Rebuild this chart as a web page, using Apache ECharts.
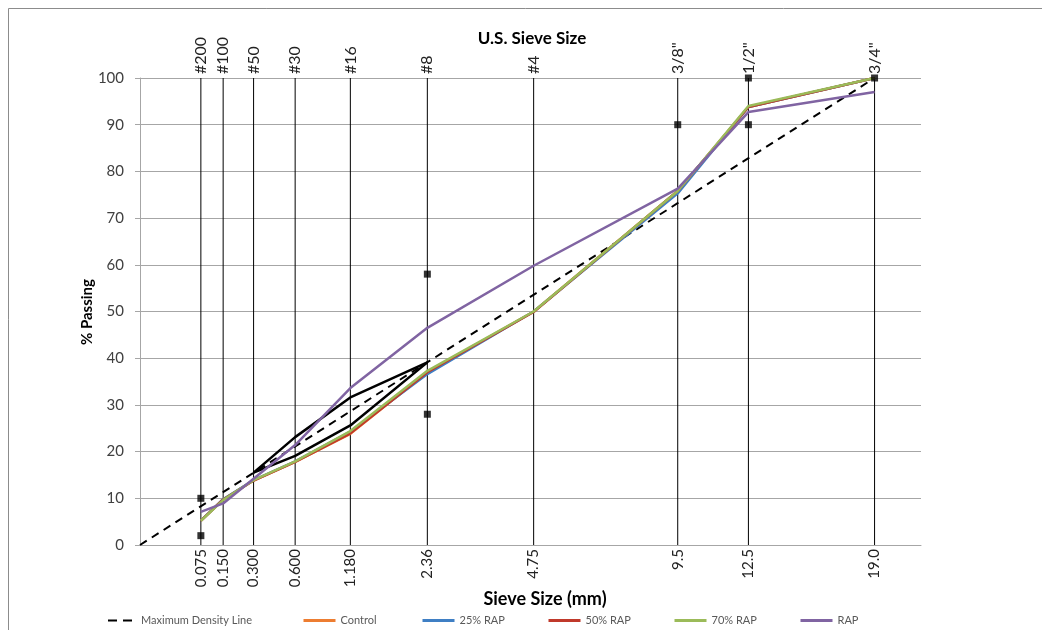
<!DOCTYPE html>
<html><head><meta charset="utf-8">
<script src="https://cdn.jsdelivr.net/npm/echarts@6/dist/echarts.min.js"></script>
<style>html,body{margin:0;padding:0;background:#fff}#c{width:1042px;height:630px}</style>
</head><body><div id="c"></div>
<script>
// Sieve sizes (mm) and labels
const sieveSizes = [0.075, 0.150, 0.300, 0.600, 1.180, 2.36, 4.75, 9.5, 12.5, 19.0];
const sizeLabels = ['0.075', '0.150', '0.300', '0.600', '1.180', '2.36', '4.75', '9.5', '12.5', '19.0'];
const sieveNames = ['#200', '#100', '#50', '#30', '#16', '#8', '#4', '3/8"', '1/2"', '3/4"'];
// % passing per gradation
const control = [5.2, 9.8, 13.8, 17.8, 23.8, 37.0, 50.0, 75.8, 93.8, 100];
const rap25   = [5.2, 9.8, 13.9, 17.9, 24.3, 36.6, 50.0, 75.3, 93.8, 100];
const rap50   = [5.2, 9.7, 13.8, 17.8, 23.9, 37.0, 49.9, 75.8, 93.8, 100];
const rap70   = [5.2, 9.6, 13.9, 17.9, 24.4, 37.3, 50.0, 75.8, 94.0, 100];
const rapOnly = [7.1, 8.9, 14.2, 21.4, 33.6, 46.5, 59.8, 76.3, 92.7, 97.0];
// maximum density line endpoints
const mdlSizes = [0, 19.0];
const mdlValues = [0, 100];
// restricted zone
const rzSizes = [0.300, 0.600, 1.180, 2.36];
const rzUpper = [15.5, 23.1, 31.6, 39.1];
const rzLower = [15.5, 19.1, 25.6, 39.1];
// control points
const cpSizes  = [0.075, 0.075, 2.36, 2.36, 9.5, 12.5, 12.5, 19.0];
const cpValues = [2, 10, 28, 58, 90, 90, 100, 100];

const P = s => Math.pow(s, 0.45);
const pairs = (xs, ys) => xs.map((x, i) => [P(x), ys[i]]);
const FONT = 'Lato, "Open Sans", sans-serif';

const chart = echarts.init(document.getElementById('c'), null, {renderer: 'canvas'});

function lineSeries(name, vals, color) {
  return {
    name, type: 'line', data: pairs(sieveSizes, vals), symbol: 'none',
    lineStyle: {color, width: 2.5}, itemStyle: {color}, z: 5, animation: false
  };
}

const legendDefs = [
  {name: 'Maximum Density Line', left: 102, w: 28, dash: true},
  {name: 'Control', left: 297, w: 32},
  {name: '25% RAP', left: 416, w: 32},
  {name: '50% RAP', left: 542, w: 32},
  {name: '70% RAP', left: 668, w: 32},
  {name: 'RAP', left: 794, w: 32}
];

const option = {
  animation: false,
  backgroundColor: '#fff',
  textStyle: {fontFamily: FONT},
  title: [
    {text: 'U.S. Sieve Size', left: 527, top: 25, textAlign: 'center',
     textStyle: {fontFamily: FONT, fontSize: 17, fontWeight: 'bold', color: '#000'}},
    {text: 'Sieve Size (mm)', left: 540, top: 585, textAlign: 'center',
     textStyle: {fontFamily: FONT, fontSize: 18, fontWeight: 'bold', color: '#000'}}
  ],
  graphic: [
    {type: 'line', shape: {x1: 8.5, y1: 8.5, x2: 1042, y2: 8.5}, style: {stroke: '#8c8c8c', lineWidth: 1}},
    {type: 'line', shape: {x1: 8.5, y1: 8.5, x2: 8.5, y2: 630}, style: {stroke: '#8c8c8c', lineWidth: 1}},
    {type: 'text', x: 87, y: 312, rotation: Math.PI / 2,
     style: {text: '% Passing', align: 'center', verticalAlign: 'middle',
             font: 'bold 15px ' + FONT, fill: '#000'}}
  ],
  legend: legendDefs.map(d => ({
    left: d.left, top: 610, data: [d.name], itemWidth: d.w, itemHeight: 14,
    itemStyle: {opacity: 0},
    lineStyle: d.dash ? {type: [9, 6], width: 2, color: '#000'} : {width: 3},
    textStyle: {fontFamily: FONT, fontSize: 11, color: '#595959'}, selectedMode: false
  })),
  grid: {left: 140, top: 78, right: 121, bottom: 85, containLabel: false},
  xAxis: {
    type: 'value', min: 0, max: 4,
    axisLine: {show: true, lineStyle: {color: '#a6a6a6'}},
    axisTick: {show: false}, axisLabel: {show: false}, splitLine: {show: false}
  },
  yAxis: {
    type: 'value', min: 0, max: 100, interval: 10,
    axisLine: {show: true, lineStyle: {color: '#a6a6a6'}},
    axisTick: {show: true, inside: false, length: 5, lineStyle: {color: '#a6a6a6'}},
    axisLabel: {margin: 16, fontFamily: FONT, fontSize: 15, color: '#404040'},
    splitLine: {show: true, lineStyle: {color: '#a6a6a6', width: 1}}
  },
  series: [
    {
      name: 'sieves', type: 'custom', clip: false, z: 2, silent: true,
      data: sieveSizes.map((s, i) => [P(s), i]),
      renderItem: (params, api) => {
        const x = api.value(0), i = api.value(1);
        const top = api.coord([x, 100]), bot = api.coord([x, 0]);
        return {type: 'group', children: [
          {type: 'line', shape: {x1: top[0], y1: top[1], x2: bot[0], y2: bot[1]},
           style: {stroke: '#000', lineWidth: 1}},
          {type: 'text', x: top[0], y: top[1] - 4, rotation: Math.PI / 2,
           style: {text: sieveNames[i], align: 'left', verticalAlign: 'middle',
                   font: '16px ' + FONT, fill: '#222'}},
          {type: 'text', x: bot[0], y: bot[1] + 4, rotation: Math.PI / 2,
           style: {text: sizeLabels[i], align: 'right', verticalAlign: 'middle',
                   font: '15px ' + FONT, fill: '#222'}}
        ]};
      }
    },
    {
      name: 'Maximum Density Line', type: 'line', data: pairs(mdlSizes, mdlValues), symbol: 'none',
      lineStyle: {color: '#000', width: 2, type: [8, 6]}, itemStyle: {color: '#000'}, z: 4
    },
    {name: 'rzUpper', type: 'line', data: pairs(rzSizes, rzUpper), symbol: 'none',
     lineStyle: {color: '#000', width: 2.5}, z: 4, silent: true},
    {name: 'rzLower', type: 'line', data: pairs(rzSizes, rzLower), symbol: 'none',
     lineStyle: {color: '#000', width: 2.5}, z: 4, silent: true},
    lineSeries('Control', control, '#ED7D31'),
    lineSeries('25% RAP', rap25, '#3F7FC4'),
    lineSeries('50% RAP', rap50, '#C0392B'),
    lineSeries('70% RAP', rap70, '#9BBB59'),
    lineSeries('RAP', rapOnly, '#8064A2'),
    {name: 'controlPoints', type: 'scatter', data: pairs(cpSizes, cpValues),
     symbol: 'rect', symbolSize: 7, itemStyle: {color: '#000'}, z: 6, silent: true}
  ]
};
chart.setOption(option);
</script>
</body></html>
